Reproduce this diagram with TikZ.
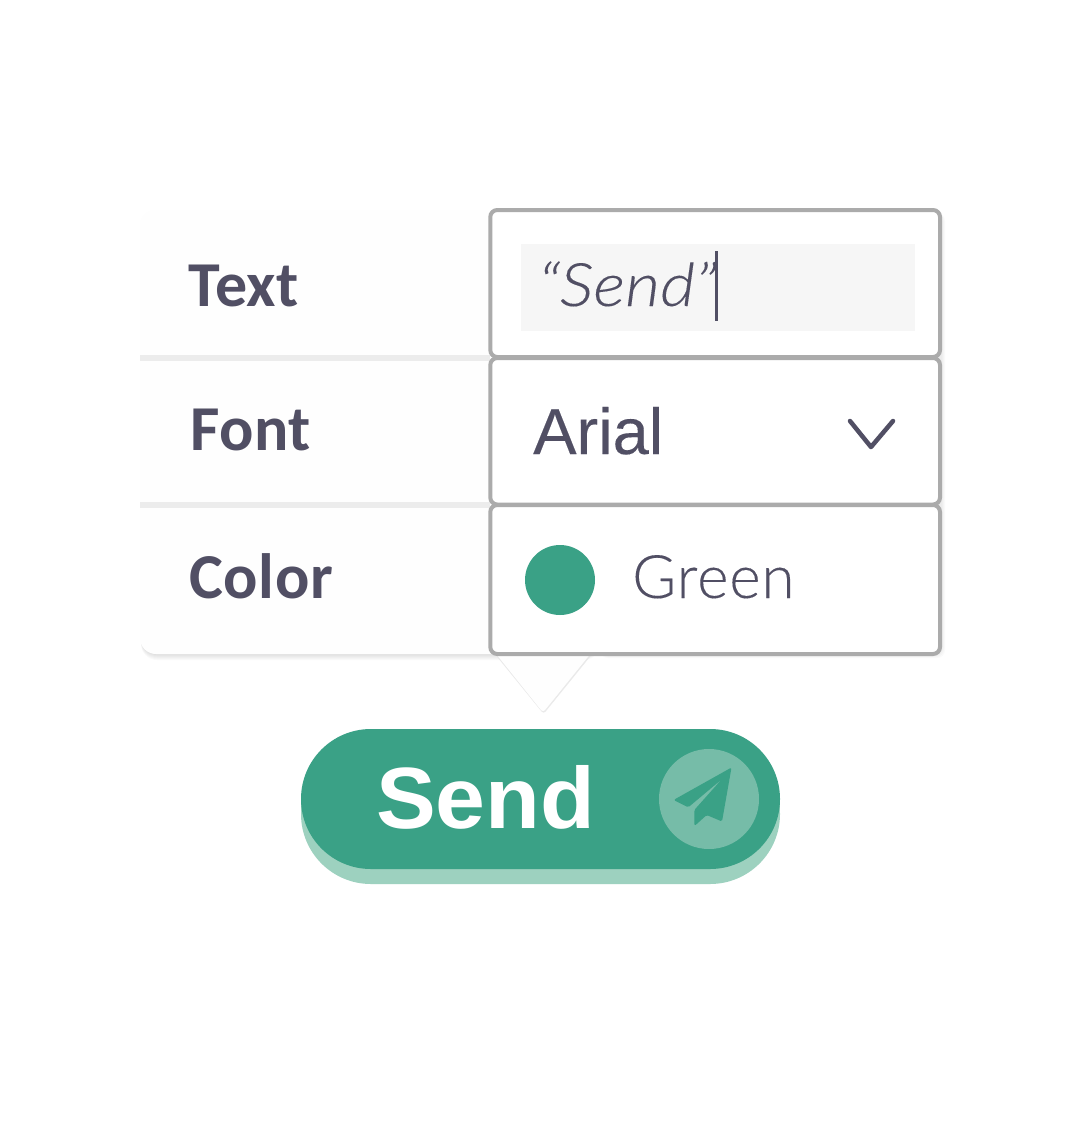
\documentclass[tikz,border=0pt]{standalone}
\usepackage{fontspec}
\setmainfont{Carlito}
\newfontfamily\labelfont[LetterSpace=1]{Carlito Bold}
\newfontfamily\arialfont[FakeStretch=1.03]{Liberation Sans}
\newfontfamily\arialmed[FakeBold=0.2]{Liberation Sans}
\newfontfamily\lightfont[LetterSpace=1.5,FakeBold=0.15]{Lato Light}
\newfontfamily\lightitfont[FakeStretch=1.13,FakeBold=0.15]{Lato Light Italic}
\definecolor{ink}{HTML}{514F64}
\definecolor{brandgreen}{HTML}{3AA186}
\definecolor{lightgreen}{HTML}{9DD1BF}
\definecolor{circlegreen}{HTML}{76BCA8}
\definecolor{boxgray}{HTML}{ABABAB}
\definecolor{sepgray}{HTML}{ECECEC}
\definecolor{fieldgray}{HTML}{F6F6F6}
\definecolor{panelwhite}{HTML}{FEFEFE}
\definecolor{edgegray}{HTML}{EAEAEA}
\tikzset{
  labeltext/.style={anchor=base west,inner sep=0pt,text=ink,font=\labelfont\fontsize{64}{70}\selectfont},
  fieldbox/.style={draw=boxgray,line width=4pt,rounded corners=7pt,fill=white},
  softshadow/.style={fill=black,opacity=0.018},
}
\begin{document}
\begin{tikzpicture}[x=1pt,y=-1pt]
\useasboundingbox (0,0) rectangle (1080,1140);
\fill[white] (0,0) rectangle (1080,1140);
% panel shadow
\foreach \d in {1,2,...,6}{
  \fill[softshadow,rounded corners=16pt] (141,300) rectangle (600,654+\d);
}
\foreach \d in {1,2,3,4}{
  \fill[softshadow,rounded corners=8pt] (600,213) rectangle (941+\d,654+\d);
}
\fill[panelwhite,rounded corners=16pt] (140,210) -- (140,654) -- (520,654) -- (520,210) -- cycle;
% separators
\fill[sepgray] (140,355) rectangle (490,361);
\fill[sepgray] (140,502) rectangle (490,508);
% pointer
\fill[edgegray,rounded corners=3pt] (491.5,650) -- (543.6,714) -- (595.5,650) -- cycle;
\fill[panelwhite,rounded corners=3pt] (493,650) -- (543,712.5) -- (593.5,650) -- cycle;
% field boxes
\draw[fieldbox] (490.3,210) rectangle (940,357);
\draw[fieldbox] (490.3,358) rectangle (940,504.5);
\draw[fieldbox] (490.3,505) rectangle (940,654);
% labels
\node[labeltext] (lblText) at (188,306) {Text};
\node[labeltext] (lblFont) at (190,450) {Font};
\node[labeltext] (lblColor) at (189,598) {Color};
% text field
\fill[fieldgray] (521,244) rectangle (915,331);
\node[anchor=base west,inner sep=0pt,text=ink,font=\lightitfont\fontsize{60}{64}\selectfont] (sendval) at (538,306) {“Send”};
\fill[ink] (715,251) rectangle (718,321);
% font row
\node[anchor=base west,inner sep=0pt,text=ink,font=\arialmed\fontsize{65}{68}\selectfont] (fontval) at (533,454) {Arial};
\draw[ink,line width=4.5pt,line cap=round,line join=round] (850,421) -- (871,447) -- (893,421);
% colour row
\fill[brandgreen] (560,580) circle[radius=35];
\node[anchor=base west,inner sep=0pt,text=ink,font=\lightfont\fontsize{60}{64}\selectfont] (colorval) at (632,598) {Green};
% button
\fill[lightgreen,rounded corners=69.9pt] (301,744) rectangle (780,884);
\fill[lightgreen] (301,799) rectangle (780,814);
\fill[brandgreen,rounded corners=69.9pt] (301,729) rectangle (780,869);
\node[anchor=base west,inner sep=0pt,text=white,font=\arialfont\bfseries\fontsize{87}{92}\selectfont] (sendbtn) at (376,828.5) {Send};
\fill[circlegreen] (709,799) circle[radius=50];
\fill[brandgreen,rounded corners=1.5pt] (731.5,767.5) -- (673.5,800) -- (688.3,807.3) -- (721.7,779.3) -- (694.3,810) -- (694.5,826) -- (706.7,815) -- (722,821.5) -- cycle;
\end{tikzpicture}
\end{document}
